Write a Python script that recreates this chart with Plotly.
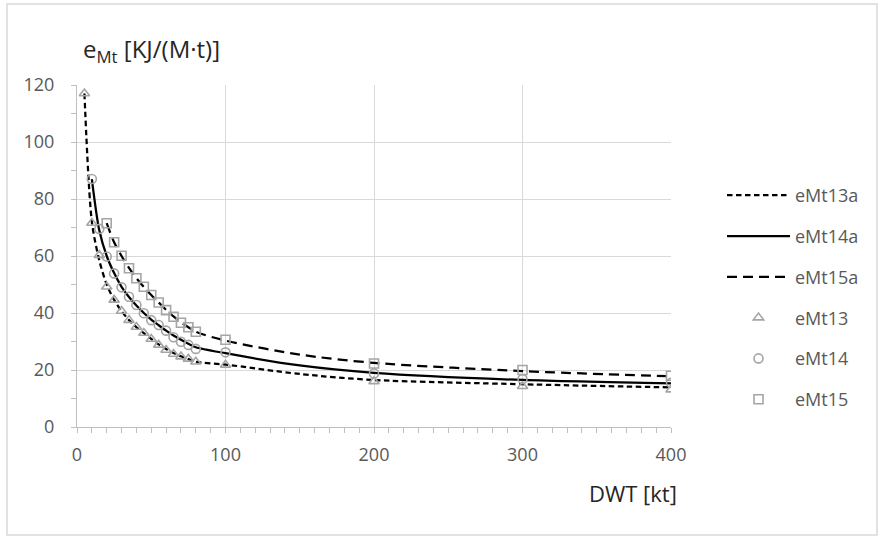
import plotly.graph_objects as go

# Measured specific energy e_Mt versus deadweight tonnage (markers)
dwt_13 = [5, 10, 15, 20, 25, 30, 35, 40, 45, 50, 55, 60, 65, 70, 75, 80, 100, 200, 300, 400]
emt_13 = [117, 71.6, 60.3, 49.2, 44.6, 40.7, 37.5, 35.1, 33.0, 30.9, 28.8, 27.0, 25.6, 24.7, 23.9, 22.9, 21.8, 16.0, 14.3, 13.1]

dwt_14 = [10, 15, 20, 25, 30, 35, 40, 45, 50, 55, 60, 65, 70, 75, 80, 100, 200, 300, 400]
emt_14 = [87, 69.5, 59.8, 53.9, 49.0, 45.7, 42.8, 39.9, 37.5, 35.8, 33.8, 31.5, 29.9, 28.8, 27.4, 26.2, 18.8, 16.8, 15.5]

dwt_15 = [20, 25, 30, 35, 40, 45, 50, 55, 60, 65, 70, 75, 80, 100, 200, 300, 400]
emt_15 = [71.5, 64.8, 60.1, 55.7, 52.2, 49.2, 46.3, 43.7, 41.0, 38.7, 36.6, 35.0, 33.4, 30.6, 22.3, 20.0, 18.0]

# Approximating curves (eMt13a, eMt14a, eMt15a)
fit_x13 = [5, 10, 15, 20, 25, 30, 35, 40, 45, 50, 55, 60, 65, 70, 75, 80, 100, 150, 200, 300, 400]
fit_y13 = [117, 72.0, 58.5, 50.0, 44.6, 40.7, 37.5, 35.0, 32.9, 30.9, 29.0, 27.4, 26.0, 24.8, 23.8, 22.9, 21.9, 18.6, 16.5, 15.0, 13.9]

fit_x14 = [10, 15, 20, 25, 30, 35, 40, 45, 50, 55, 60, 65, 70, 75, 80, 100, 150, 200, 300, 400]
fit_y14 = [87, 69.0, 60.0, 54.0, 49.2, 45.6, 42.6, 40.0, 37.7, 35.7, 33.8, 32.1, 30.6, 29.2, 28.0, 25.9, 21.6, 19.0, 16.5, 15.3]

fit_x15 = [20, 25, 30, 35, 40, 45, 50, 55, 60, 65, 70, 75, 80, 100, 150, 200, 300, 400]
fit_y15 = [71.5, 64.8, 60.0, 55.8, 52.2, 49.1, 46.3, 43.7, 41.1, 38.8, 36.7, 35.0, 33.4, 30.3, 25.4, 22.5, 19.6, 17.8]

x_range = [0, 400]
y_range = [0, 120]

# plot-area geometry in pixels
W, H = 878, 536
L, R, T, B = 77, 207, 85, 109
PW, PH = W - L - R, H - T - B


def px_x(p):
    return (p - L) / PW


def px_y(p):
    return (H - B - p) / PH


GRID = "#d9d9d9"
AXIS = "#bfbfbf"
TICK_TXT = "#595959"
MARK = "#a5a5a5"
FONT = "Open Sans"

fig = go.Figure()

lines = [
    ("eMt13a", fit_x13, fit_y13, "5.5px,3.5px"),
    ("eMt14a", fit_x14, fit_y14, "solid"),
    ("eMt15a", fit_x15, fit_y15, "10px,6px"),
]
for name, xs, ys, dash in lines:
    fig.add_trace(go.Scatter(
        x=xs, y=ys, name=name, mode="lines", legendgroup=name,
        line=dict(color="black", width=2.25, dash=dash, shape="spline", smoothing=0.8),
    ))

markers = [
    ("eMt13", dwt_13, emt_13, "triangle-up-open"),
    ("eMt14", dwt_14, emt_14, "circle-open"),
    ("eMt15", dwt_15, emt_15, "square-open"),
]
for name, xs, ys, sym in markers:
    fig.add_trace(go.Scatter(
        x=xs, y=ys, name=name, mode="markers", legendgroup=name,
        marker=dict(symbol=sym, size=9, color=MARK, line=dict(width=1.6, color=MARK)),
    ))

fig.update_layout(
    width=W, height=H,
    margin=dict(l=L, r=R, t=T, b=B),
    paper_bgcolor="white", plot_bgcolor="white",
    font=dict(family=FONT, size=18, color=TICK_TXT),
    showlegend=True,
    legend=dict(
        x=px_x(722), y=px_y(177), xanchor="left", yanchor="top",
        itemwidth=63, tracegroupgap=14.4, bgcolor="rgba(0,0,0,0)",
        font=dict(family=FONT, size=18, color=TICK_TXT),
    ),
    xaxis=dict(
        range=x_range, dtick=100, tick0=0,
        showgrid=True, gridcolor=GRID, gridwidth=1,
        showline=True, linecolor=AXIS, linewidth=1,
        ticks="outside", ticklen=5, tickcolor=AXIS,
        minor=dict(dtick=10, ticks="outside", ticklen=5, tickcolor=AXIS, showgrid=False),
        zeroline=False, ticklabelstandoff=6,
        tickfont=dict(family=FONT, size=18, color=TICK_TXT),
    ),
    yaxis=dict(
        range=y_range, dtick=20, tick0=0,
        showgrid=True, gridcolor=GRID, gridwidth=1,
        showline=True, linecolor=AXIS, linewidth=1,
        ticks="outside", ticklen=5, tickcolor=AXIS,
        minor=dict(dtick=10, ticks="outside", ticklen=5, tickcolor=AXIS, showgrid=False),
        zeroline=False, ticklabelstandoff=13,
        tickfont=dict(family=FONT, size=18, color=TICK_TXT),
    ),
    annotations=[
        dict(text="e<sub>Mt</sub> [KJ/(M·t)]", xref="paper", yref="paper",
             x=px_x(81), y=px_y(50), xanchor="left", yanchor="middle",
             showarrow=False, font=dict(family=FONT, size=24, color="#262626")),
        dict(text="DWT [kt]", xref="paper", yref="paper",
             x=px_x(679), y=px_y(493), xanchor="right", yanchor="middle",
             showarrow=False, font=dict(family=FONT, size=22, color="#262626")),
    ],
    shapes=[
        dict(type="rect", xref="paper", yref="paper",
             x0=px_x(7), x1=px_x(877), y0=px_y(535), y1=px_y(4),
             line=dict(color=GRID, width=1.5), fillcolor="rgba(0,0,0,0)", layer="below"),
    ],
)

fig.write_html("out.html")
